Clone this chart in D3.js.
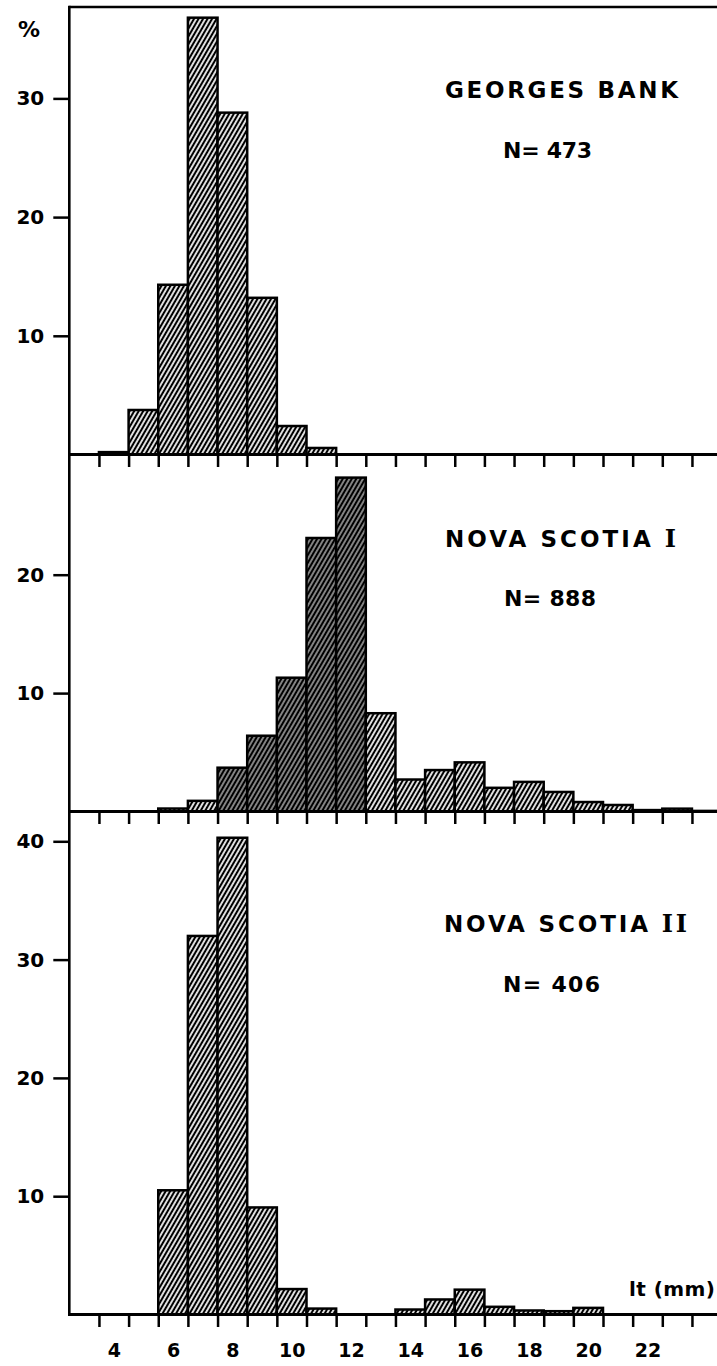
<!DOCTYPE html>
<html>
<head>
<meta charset="utf-8">
<script src="https://cdn.jsdelivr.net/npm/d3@7"></script>
<style>
  body { margin: 0; background: #fff; }
  svg { display: block; }
  text { font-family: "DejaVu Sans", sans-serif; font-weight: bold; fill: #000; }
</style>
</head>
<body>
<svg id="chart" width="717" height="1366"></svg>
<script>
// ---------------- DATA ----------------
const bins = [3, 4, 5, 6, 7, 8, 9, 10, 11, 12, 13, 14, 15, 16, 17, 18, 19, 20, 21, 22, 23, 24];
const georgesBank = [0, 0.2, 3.75, 14.3, 36.8, 28.8, 13.2, 2.4, 0.55, 0, 0, 0, 0, 0, 0, 0, 0, 0, 0, 0, 0, 0];
const novaScotia1 = [0, 0, 0, 0.25, 0.9, 3.7, 6.4, 11.3, 23.1, 28.2, 8.3, 2.7, 3.5, 4.15, 2.0, 2.5, 1.65, 0.8, 0.55, 0.12, 0.24, 0.05];
const novaScotia2 = [0, 0, 0, 10.5, 32.0, 40.3, 9.05, 2.15, 0.5, 0, 0, 0.42, 1.27, 2.1, 0.65, 0.34, 0.28, 0.56, 0, 0, 0, 0];
const panelNames = ["GEORGES BANK", "NOVA SCOTIA I", "NOVA SCOTIA II"];
const panelCounts = ["N= 473", "N= 888", "N= 406"];
const yTicksGB = [10, 20, 30];
const yTicksNS1 = [10, 20];
const yTicksNS2 = [10, 20, 30, 40];
const xTickValues = [3.5, 4.5, 5.5, 6.5, 7.5, 8.5, 9.5, 10.5, 11.5, 12.5, 13.5, 14.5, 15.5, 16.5, 17.5, 18.5, 19.5, 20.5, 21.5, 22.5, 23.5];
const xLabelValues = [4, 6, 8, 10, 12, 14, 16, 18, 20, 22];
const xAxisTitle = "lt (mm)";
const yUnitLabel = "%";

// ---------------- LAYOUT ----------------
const W = 717;
const axisX = 69.3;
const unitW = 29.65;
const x = d3.scaleLinear().domain([2.5, 24.5]).range([axisX, axisX + 22 * unitW]);

const panels = [
  { values: georgesBank, ticks: yTicksGB, zero: 454.5, top: 7, unit: 11.87,
    title: [445, 98.3, 233], count: [503, 158.3, 89], dark: [] },
  { values: novaScotia1, ticks: yTicksNS1, zero: 811.5, top: 454.5, unit: 11.84,
    title: [445, 546.6, 231], count: [504, 606.3, 92], dark: [8, 9, 10, 11, 12] },
  { values: novaScotia2, ticks: yTicksNS2, zero: 1314.5, top: 811.5, unit: 11.83,
    title: [444, 932.3, 243], count: [503, 991.7, 97], dark: [] }
];

const svg = d3.select("#chart");

// hatch patterns
const defs = svg.append("defs");
function hatch(id, size, sw) {
  const p = defs.append("pattern").attr("id", id)
    .attr("patternUnits", "userSpaceOnUse")
    .attr("width", size).attr("height", size)
    .attr("patternTransform", "rotate(30)");
  p.append("rect").attr("width", size).attr("height", size).attr("fill", "#fff");
  p.append("line").attr("x1", size / 2).attr("y1", 0).attr("x2", size / 2).attr("y2", size)
    .attr("stroke", "#000").attr("stroke-width", sw);
}
hatch("hatch", 3.9, 2.2);
hatch("hatchDark", 3.9, 2.9);

panels.forEach((p, i) => {
  const y = d3.scaleLinear().domain([0, 10]).range([p.zero, p.zero - 10 * p.unit]);
  const g = svg.append("g");

  const data = bins.map((b, j) => ({ bin: b, v: p.values[j] })).filter(d => d.v > 0);
  g.selectAll("rect.bar").data(data).enter().append("rect")
    .attr("class", "bar")
    .attr("x", d => x(d.bin - 0.5))
    .attr("width", d => x(d.bin + 0.5) - x(d.bin - 0.5))
    .attr("y", d => y(d.v))
    .attr("height", d => p.zero - y(d.v))
    .attr("fill", d => p.dark.includes(d.bin) ? "url(#hatchDark)" : "url(#hatch)")
    .attr("stroke", "#000")
    .attr("stroke-width", 2.5);

  // y axis ticks + labels
  const ya = g.append("g").attr("transform", `translate(${axisX},0)`)
    .call(d3.axisLeft(y).tickValues(p.ticks).tickSize(16).tickPadding(9).tickFormat(d3.format("d")));
  ya.select(".domain").remove();
  ya.selectAll(".tick line").attr("stroke", "#000").attr("stroke-width", 2.5);
  ya.selectAll(".tick text").style("font-size", "20px").style("font-family", "DejaVu Sans")
    .style("font-weight", "bold").attr("fill", "#000");

  // x ticks hanging below baseline
  const xa = g.append("g").attr("transform", `translate(0,${p.zero})`)
    .call(d3.axisBottom(x).tickValues(xTickValues).tickSize(12.5).tickFormat(""));
  xa.select(".domain").remove();
  xa.selectAll(".tick line").attr("stroke", "#000").attr("stroke-width", 2.5);

  // baseline
  g.append("line").attr("x1", axisX).attr("x2", W).attr("y1", p.zero).attr("y2", p.zero)
    .attr("stroke", "#000").attr("stroke-width", 3);

  // title
  const name = panelNames[i];
  const m = name.match(/^(.*?)(\s+)(I+)$/);
  const t = g.append("text").attr("x", p.title[0]).attr("y", p.title[1])
    .attr("textLength", p.title[2]).attr("lengthAdjust", "spacing")
    .style("font-size", "23px");
  if (m) {
    t.append("tspan").text(m[1] + m[2]);
    t.append("tspan").style("font-family", "DejaVu Serif").style("font-size", "24px").text(m[3]);
  } else {
    t.text(name);
  }
  g.append("text").attr("x", p.count[0]).attr("y", p.count[1])
    .attr("textLength", p.count[2]).attr("lengthAdjust", "spacing")
    .style("font-size", "22px").text(panelCounts[i]);
});

// top border and left axis
svg.append("line").attr("x1", axisX).attr("x2", W).attr("y1", 7).attr("y2", 7)
  .attr("stroke", "#000").attr("stroke-width", 2.5);
svg.append("line").attr("x1", axisX).attr("x2", axisX).attr("y1", 5.8).attr("y2", 1316)
  .attr("stroke", "#000").attr("stroke-width", 2.6);

// bottom labels
const bl = svg.append("g").attr("transform", `translate(0,${panels[2].zero})`)
  .call(d3.axisBottom(x).tickValues(xLabelValues).tickSize(0).tickPadding(29).tickFormat(d3.format("d")));
bl.select(".domain").remove();
bl.selectAll(".tick text").style("font-size", "19px").style("font-family", "DejaVu Sans")
  .style("font-weight", "bold").attr("fill", "#000");

// axis title and unit
svg.append("text").attr("x", 715).attr("y", 1295.5).attr("text-anchor", "end")
  .attr("textLength", 86).attr("lengthAdjust", "spacing")
  .style("font-size", "20px").text(xAxisTitle);
svg.append("text").attr("x", 29).attr("y", 37).attr("text-anchor", "middle")
  .style("font-size", "22px").text(yUnitLabel);
</script>
</body>
</html>
